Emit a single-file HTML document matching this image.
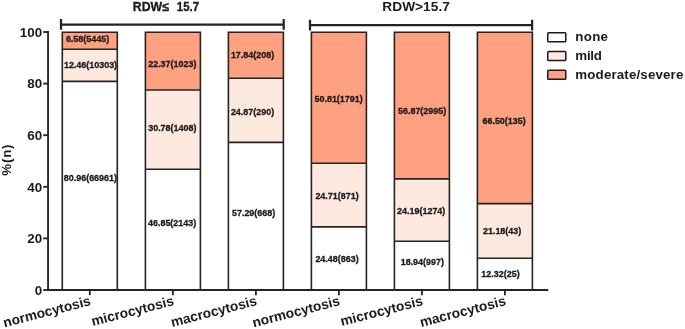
<!DOCTYPE html>
<html><head><meta charset="utf-8"><title>chart</title>
<style>html,body{margin:0;padding:0;background:#fff;}body,svg,text{font-family:"Liberation Sans",sans-serif;font-weight:bold;}svg{display:block;will-change:transform;filter:blur(0.35px);}</style></head>
<body>
<svg width="685" height="329" viewBox="0 0 685 329" fill="#1c1a1b">
<rect width="685" height="329" fill="#fff"/>
<rect x="62.30" y="32.30" width="55.00" height="16.96" fill="#fea181"/>
<rect x="62.30" y="49.26" width="55.00" height="32.11" fill="#fee9e0"/>
<rect x="62.30" y="81.37" width="55.00" height="208.63" fill="#ffffff"/>
<path d="M62.30 290.0 V32.30 H117.30 V290.0 M62.30 49.26 H117.30 M62.30 81.37 H117.30" fill="none" stroke="#252324" stroke-width="1.6"/>
<rect x="145.40" y="32.30" width="55.00" height="57.65" fill="#fea181"/>
<rect x="145.40" y="89.95" width="55.00" height="79.32" fill="#fee9e0"/>
<rect x="145.40" y="169.27" width="55.00" height="120.73" fill="#ffffff"/>
<path d="M145.40 290.0 V32.30 H200.40 V290.0 M145.40 89.95 H200.40 M145.40 169.27 H200.40" fill="none" stroke="#252324" stroke-width="1.6"/>
<rect x="228.40" y="32.30" width="55.00" height="45.97" fill="#fea181"/>
<rect x="228.40" y="78.27" width="55.00" height="64.09" fill="#fee9e0"/>
<rect x="228.40" y="142.36" width="55.00" height="147.64" fill="#ffffff"/>
<path d="M228.40 290.0 V32.30 H283.40 V290.0 M228.40 78.27 H283.40 M228.40 142.36 H283.40" fill="none" stroke="#252324" stroke-width="1.6"/>
<rect x="311.40" y="32.30" width="55.00" height="130.94" fill="#fea181"/>
<rect x="311.40" y="163.24" width="55.00" height="63.68" fill="#fee9e0"/>
<rect x="311.40" y="226.92" width="55.00" height="63.08" fill="#ffffff"/>
<path d="M311.40 290.0 V32.30 H366.40 V290.0 M311.40 163.24 H366.40 M311.40 226.92 H366.40" fill="none" stroke="#252324" stroke-width="1.6"/>
<rect x="394.40" y="32.30" width="55.00" height="146.55" fill="#fea181"/>
<rect x="394.40" y="178.85" width="55.00" height="62.34" fill="#fee9e0"/>
<rect x="394.40" y="241.19" width="55.00" height="48.81" fill="#ffffff"/>
<path d="M394.40 290.0 V32.30 H449.40 V290.0 M394.40 178.85 H449.40 M394.40 241.19 H449.40" fill="none" stroke="#252324" stroke-width="1.6"/>
<rect x="477.40" y="32.30" width="55.00" height="171.37" fill="#fea181"/>
<rect x="477.40" y="203.67" width="55.00" height="54.58" fill="#fee9e0"/>
<rect x="477.40" y="258.25" width="55.00" height="31.75" fill="#ffffff"/>
<path d="M477.40 290.0 V32.30 H532.40 V290.0 M477.40 203.67 H532.40 M477.40 258.25 H532.40" fill="none" stroke="#252324" stroke-width="1.6"/>
<path d="M48.05 31 V290.9 M47.1 290 H548.3" fill="none" stroke="#252324" stroke-width="1.85"/>
<path d="M43.2 290.00 H48" stroke="#252324" stroke-width="1.85"/>
<text x="42.1" y="294.70" font-size="13.4" text-anchor="end">0</text>
<path d="M43.2 238.40 H48" stroke="#252324" stroke-width="1.85"/>
<text x="42.1" y="243.10" font-size="13.4" text-anchor="end">20</text>
<path d="M43.2 186.80 H48" stroke="#252324" stroke-width="1.85"/>
<text x="42.1" y="191.50" font-size="13.4" text-anchor="end">40</text>
<path d="M43.2 135.20 H48" stroke="#252324" stroke-width="1.85"/>
<text x="42.1" y="139.90" font-size="13.4" text-anchor="end">60</text>
<path d="M43.2 83.60 H48" stroke="#252324" stroke-width="1.85"/>
<text x="42.1" y="88.30" font-size="13.4" text-anchor="end">80</text>
<path d="M43.2 32.00 H48" stroke="#252324" stroke-width="1.85"/>
<text x="42.1" y="36.70" font-size="13.4" text-anchor="end">100</text>
<path d="M89.80 290 V295.2" stroke="#252324" stroke-width="1.8"/>
<path d="M172.90 290 V295.2" stroke="#252324" stroke-width="1.8"/>
<path d="M255.90 290 V295.2" stroke="#252324" stroke-width="1.8"/>
<path d="M338.90 290 V295.2" stroke="#252324" stroke-width="1.8"/>
<path d="M421.90 290 V295.2" stroke="#252324" stroke-width="1.8"/>
<path d="M504.90 290 V295.2" stroke="#252324" stroke-width="1.8"/>
<text transform="translate(91.50 304.9) rotate(-14.5)" font-size="13.7" text-anchor="end">normocytosis</text>
<text transform="translate(174.60 304.9) rotate(-14.5)" font-size="13.7" text-anchor="end">microcytosis</text>
<text transform="translate(257.60 304.9) rotate(-14.5)" font-size="13.7" text-anchor="end">macrocytosis</text>
<text transform="translate(340.60 304.9) rotate(-14.5)" font-size="13.7" text-anchor="end">normocytosis</text>
<text transform="translate(423.60 304.9) rotate(-14.5)" font-size="13.7" text-anchor="end">microcytosis</text>
<text transform="translate(506.60 304.9) rotate(-14.5)" font-size="13.7" text-anchor="end">macrocytosis</text>
<text transform="translate(11 175.7) rotate(-90)" font-size="13.33" textLength="31.2" lengthAdjust="spacing">%(n)</text>
<path d="M61 19 V29.8 M61 24.6 H283.7 M283.7 19 V29.8" fill="none" stroke="#252324" stroke-width="2.25"/>
<path d="M310 19.8 V30.6 M310 25.2 H532.1 M532.1 19.8 V30.6" fill="none" stroke="#252324" stroke-width="2.25"/>
<text y="11.2" font-size="12.8" stroke="#1c1a1b" stroke-width="0.35"><tspan x="132.8" textLength="36" lengthAdjust="spacingAndGlyphs">RDW≤</tspan> <tspan x="176.8" textLength="22.2" lengthAdjust="spacingAndGlyphs">15.7</tspan></text>
<text x="382.3" y="11.2" font-size="13.7" textLength="67.6" lengthAdjust="spacing">RDW&gt;15.7</text>
<rect x="547.75" y="32.75" width="18" height="9.1" rx="0.8" fill="#ffffff" stroke="#1c1a1b" stroke-width="1.5"/>
<text x="575.3" y="41.15" font-size="13.33" textLength="32.7" lengthAdjust="spacing">none</text>
<rect x="547.75" y="51.45" width="18" height="9.1" rx="0.8" fill="#fee9e0" stroke="#1c1a1b" stroke-width="1.5"/>
<text x="575.3" y="59.85" font-size="13.33" textLength="26.6" lengthAdjust="spacing">mild</text>
<rect x="547.75" y="70.15" width="18" height="9.1" rx="0.8" fill="#fea181" stroke="#1c1a1b" stroke-width="1.5"/>
<text x="575.3" y="78.55" font-size="13.33" textLength="108.0" lengthAdjust="spacing">moderate/severe</text>
<text x="87.50" y="42.35" font-size="8.95" text-anchor="middle" stroke="#1c1a1b" stroke-width="0.3">6.58(5445)</text>
<text x="90.50" y="67.85" font-size="8.95" text-anchor="middle" stroke="#1c1a1b" stroke-width="0.3">12.46(10303)</text>
<text x="90.40" y="180.85" font-size="8.95" text-anchor="middle" stroke="#1c1a1b" stroke-width="0.3">80.96(66961)</text>
<text x="172.30" y="67.35" font-size="8.95" text-anchor="middle" stroke="#1c1a1b" stroke-width="0.3">22.37(1023)</text>
<text x="172.30" y="131.15" font-size="8.95" text-anchor="middle" stroke="#1c1a1b" stroke-width="0.3">30.78(1408)</text>
<text x="172.10" y="226.45" font-size="8.95" text-anchor="middle" stroke="#1c1a1b" stroke-width="0.3">46.85(2143)</text>
<text x="252.50" y="57.95" font-size="8.95" text-anchor="middle" stroke="#1c1a1b" stroke-width="0.3">17.84(208)</text>
<text x="252.50" y="114.65" font-size="8.95" text-anchor="middle" stroke="#1c1a1b" stroke-width="0.3">24.87(290)</text>
<text x="253.60" y="215.55" font-size="8.95" text-anchor="middle" stroke="#1c1a1b" stroke-width="0.3">57.29(668)</text>
<text x="338.60" y="101.55" font-size="8.95" text-anchor="middle" stroke="#1c1a1b" stroke-width="0.3">50.81(1791)</text>
<text x="337.00" y="199.35" font-size="8.95" text-anchor="middle" stroke="#1c1a1b" stroke-width="0.3">24.71(871)</text>
<text x="337.00" y="262.05" font-size="8.95" text-anchor="middle" stroke="#1c1a1b" stroke-width="0.3">24.48(863)</text>
<text x="422.10" y="113.85" font-size="8.95" text-anchor="middle" stroke="#1c1a1b" stroke-width="0.3">56.87(2995)</text>
<text x="421.20" y="213.55" font-size="8.95" text-anchor="middle" stroke="#1c1a1b" stroke-width="0.3">24.19(1274)</text>
<text x="422.30" y="265.05" font-size="8.95" text-anchor="middle" stroke="#1c1a1b" stroke-width="0.3">18.94(997)</text>
<text x="504.10" y="124.45" font-size="8.95" text-anchor="middle" stroke="#1c1a1b" stroke-width="0.3">66.50(135)</text>
<text x="502.10" y="233.75" font-size="8.95" text-anchor="middle" stroke="#1c1a1b" stroke-width="0.3">21.18(43)</text>
<text x="500.50" y="276.55" font-size="8.95" text-anchor="middle" stroke="#1c1a1b" stroke-width="0.3">12.32(25)</text>
</svg>
</body></html>
